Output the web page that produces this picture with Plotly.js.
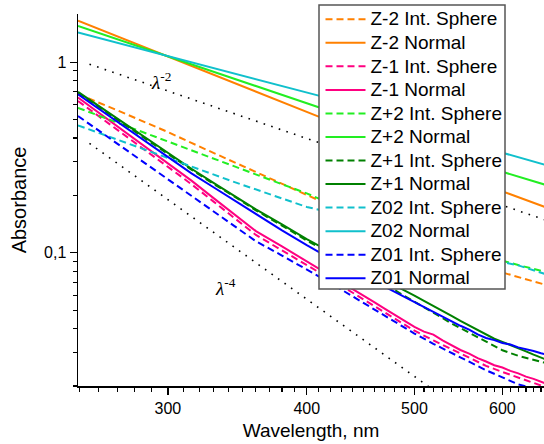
<!DOCTYPE html>
<html>
<head>
<meta charset="utf-8">
<script src="https://cdn.plot.ly/plotly-3.0.1.min.js"></script>
<style>
html,body{margin:0;padding:0;background:#fff;}
#chart{width:544px;height:444px;}
.legendtext{font-size:19px !important;}
</style>
</head>
<body>
<div id="chart"></div>
<script>
// Wavelength grid (nm) for measured spectra
const wl = [249, 260, 270, 280, 290, 300, 315, 330, 345, 360, 380, 400, 420, 440, 460, 480, 500, 520, 540, 560, 580, 600, 620, 640, 655];
// Denser grid for the noisier "Normal" spectra of Z-1, Z+1, Z01
const wlN = [249, 260, 270, 280, 290, 300, 315, 330, 345, 360, 380, 400, 420, 440, 450, 460, 470, 480, 490, 500, 510, 520, 530, 540, 550, 560, 570, 580, 590, 600, 610, 620, 630, 640, 650, 655];
// Wavelengths for the smooth "Normal" curves of Z-2, Z+2, Z02
const wlFit = [249, 410, 600, 655];

const z2Int  = [0.68, 0.616, 0.56, 0.511, 0.469, 0.43, 0.377, 0.334, 0.298, 0.265, 0.231, 0.201, 0.177, 0.159, 0.144, 0.131, 0.119, 0.109, 0.100, 0.0922, 0.0853, 0.0788, 0.0745, 0.0707, 0.0681];
const z2Norm = [1.65, 0.518, 0.21, 0.174];
const z1Int  = [0.626, 0.52, 0.443, 0.379, 0.326, 0.282, 0.229, 0.185, 0.151, 0.124, 0.103, 0.0865, 0.0728, 0.0617, 0.0525, 0.0451, 0.039, 0.0347, 0.0312, 0.0281, 0.0255, 0.0237, 0.0221, 0.0207, 0.0198];
const z1Norm = [0.652, 0.542, 0.461, 0.395, 0.34, 0.294, 0.239, 0.193, 0.158, 0.130, 0.108, 0.0904, 0.0762, 0.0645, 0.0596, 0.0551, 0.0509, 0.0473, 0.0439, 0.0409, 0.0386, 0.0372, 0.0347, 0.0328, 0.0309, 0.0296, 0.0280, 0.0269, 0.0257, 0.0250, 0.0240, 0.0233, 0.0224, 0.0218, 0.0211, 0.0207];
const zp2Int = [0.576, 0.524, 0.482, 0.444, 0.411, 0.381, 0.342, 0.31, 0.282, 0.257, 0.229, 0.205, 0.181, 0.165, 0.152, 0.14, 0.129, 0.12, 0.111, 0.104, 0.0969, 0.0908, 0.0862, 0.0822, 0.0795];
const zp2Norm = [1.55, 0.58, 0.266, 0.228];
const zp1Int = [0.69, 0.58, 0.50, 0.433, 0.377, 0.33, 0.273, 0.229, 0.196, 0.167, 0.139, 0.116, 0.099, 0.0858, 0.0736, 0.0635, 0.0554, 0.0483, 0.0426, 0.0381, 0.0341, 0.0308, 0.0288, 0.0274, 0.0265];
const zp1Norm = [0.698, 0.588, 0.507, 0.439, 0.382, 0.334, 0.276, 0.232, 0.198, 0.169, 0.141, 0.118, 0.101, 0.0879, 0.0822, 0.0769, 0.0719, 0.0676, 0.0633, 0.0596, 0.0559, 0.0527, 0.0495, 0.0467, 0.0439, 0.0415, 0.0391, 0.0371, 0.0354, 0.0341, 0.0329, 0.0315, 0.0304, 0.0292, 0.0282, 0.0277];
const z02Int = [0.466, 0.425, 0.392, 0.362, 0.336, 0.312, 0.283, 0.257, 0.234, 0.215, 0.192, 0.174, 0.163, 0.151, 0.14, 0.131, 0.123, 0.115, 0.108, 0.102, 0.0966, 0.0893, 0.0859, 0.0809, 0.0775];
const z02Norm = [1.43, 0.668, 0.335, 0.29];
const z01Int = [0.522, 0.437, 0.375, 0.323, 0.28, 0.243, 0.199, 0.165, 0.137, 0.115, 0.0967, 0.082, 0.0695, 0.059, 0.0505, 0.0435, 0.0377, 0.0333, 0.0298, 0.0268, 0.0242, 0.0222, 0.0204, 0.0195, 0.0182];
const z01Norm = [0.679, 0.569, 0.489, 0.421, 0.366, 0.319, 0.261, 0.22, 0.187, 0.159, 0.131, 0.1096, 0.0933, 0.081, 0.0757, 0.0709, 0.0662, 0.0623, 0.0584, 0.0551, 0.0517, 0.0491, 0.0461, 0.0439, 0.0414, 0.0395, 0.0373, 0.0357, 0.0348, 0.0336, 0.0330, 0.0319, 0.0313, 0.0305, 0.0297, 0.0294];

// Power-law guide lines
const lam2X = [255, 655], lam2Y = [0.976, 0.149];
const lam4X = [255, 530], lam4Y = [0.375, 0.0176];

// Tick labels
const xTickVals = [300, 400, 500, 600];
const xTickText = ['300', '400', '500', '600'];
const yTickVals = [0.1, 1];
const yTickText = ['0,1', '1'];

const FONT = 'Arial, "Liberation Sans", sans-serif';
const colors = {z2: '#FF8000', z1: '#FF0080', zp2: '#22EE22', zp1: '#008000', z02: '#10C0CC', z01: '#0000FF'};
const DASH = '7px,4px';
const LW = 2;

function tr(x, y, name, color, dashed) {
  return {x: x, y: y, type: 'scatter', mode: 'lines', name: name,
    line: {color: color, width: LW, dash: dashed ? DASH : 'solid'}, hoverinfo: 'skip'};
}

const traces = [
  {x: lam2X, y: lam2Y, type: 'scatter', mode: 'lines', showlegend: false, line: {color: '#000', width: 1.6, dash: '1.6px,6.4px'}},
  {x: lam4X, y: lam4Y, type: 'scatter', mode: 'lines', showlegend: false, line: {color: '#000', width: 1.6, dash: '1.6px,6.4px'}},
  tr(wl, z2Int, 'Z-2 Int. Sphere', colors.z2, true),
  tr(wlFit, z2Norm, 'Z-2 Normal', colors.z2, false),
  tr(wl, z1Int, 'Z-1 Int. Sphere', colors.z1, true),
  tr(wlN, z1Norm, 'Z-1 Normal', colors.z1, false),
  tr(wl, zp2Int, 'Z+2 Int. Sphere', colors.zp2, true),
  tr(wlFit, zp2Norm, 'Z+2 Normal', colors.zp2, false),
  tr(wl, zp1Int, 'Z+1 Int. Sphere', colors.zp1, true),
  tr(wlN, zp1Norm, 'Z+1 Normal', colors.zp1, false),
  tr(wl, z02Int, 'Z02 Int. Sphere', colors.z02, true),
  tr(wlFit, z02Norm, 'Z02 Normal', colors.z02, false),
  tr(wl, z01Int, 'Z01 Int. Sphere', colors.z01, true),
  tr(wlN, z01Norm, 'Z01 Normal', colors.z01, false)
];

const xMinor = [];
for (let v = 250; v <= 650; v += 10) { if (v % 100 !== 0) xMinor.push(v); }
const yMinor = [];
for (let d of [0.01, 0.1]) { for (let k = 2; k <= 9; k++) { const v = +(k * d).toFixed(3); if (v >= 0.02) yMinor.push(v); } }

// plot area in pixels: left 78, right 544, top 14, bottom 386
const PX = {l: 78, r: 544, t: 14, b: 386};
const px2paperX = p => (p - PX.l) / (PX.r - PX.l);
const px2paperY = p => (PX.b - p) / (PX.b - PX.t);

const layout = {
  width: 544, height: 444,
  margin: {l: 78, r: 0, t: 14, b: 58, pad: 0},
  paper_bgcolor: '#fff', plot_bgcolor: '#fff',
  font: {family: FONT, size: 16, color: '#000'},
  showlegend: true,
  xaxis: {
    type: 'log', range: [Math.log10(249), Math.log10(654)],
    showgrid: false, zeroline: false, showline: true, linecolor: '#000', linewidth: 1.5, mirror: false,
    ticks: 'outside', ticklen: 7, tickwidth: 1.2, tickcolor: '#000',
    tickmode: 'array', tickvals: xTickVals, ticktext: xTickText,
    tickfont: {family: FONT, size: 16, color: '#000'},
    minor: {tickmode: 'array', tickvals: xMinor, ticks: 'outside', ticklen: 4, tickwidth: 1.1, tickcolor: '#000', showgrid: false},
    title: {text: 'Wavelength, nm', font: {family: FONT, size: 19, color: '#000'}, standoff: 8}
  },
  yaxis: {
    type: 'log', range: [Math.log10(0.02), Math.log10(1.79)],
    showgrid: false, zeroline: false, showline: true, linecolor: '#000', linewidth: 1.5, mirror: false,
    ticks: 'outside', ticklen: 7, tickwidth: 1.2, tickcolor: '#000',
    tickmode: 'array', tickvals: yTickVals, ticktext: yTickText,
    tickfont: {family: FONT, size: 16, color: '#000'},
    minor: {tickmode: 'array', tickvals: yMinor, ticks: 'outside', ticklen: 4, tickwidth: 1.1, tickcolor: '#000', showgrid: false},
    title: {text: 'Absorbance', font: {family: FONT, size: 20, color: '#000'}, standoff: 12}
  },
  legend: {
    xref: 'paper', yref: 'paper',
    x: px2paperX(320.5), y: px2paperY(2.5), xanchor: 'left', yanchor: 'top',
    bgcolor: 'rgba(0,0,0,0)', borderwidth: 0,
    font: {family: FONT, size: 15.8, color: '#000'},
    itemwidth: 40, tracegroupgap: 0, maxheight: 420
  },
  shapes: [
    {type: 'rect', xref: 'paper', yref: 'paper', layer: 'above',
     x0: px2paperX(319), x1: px2paperX(505), y0: px2paperY(289), y1: px2paperY(5),
     fillcolor: '#fff', line: {color: '#555', width: 1.5}}
  ],
  annotations: [
    {xref: 'x', yref: 'y', x: Math.log10(296), y: Math.log10(0.80), text: '<i>λ</i><sup>-2</sup>', showarrow: false,
     font: {family: '"Liberation Serif", "Times New Roman", serif', size: 19, color: '#000'}},
    {xref: 'x', yref: 'y', x: Math.log10(338), y: Math.log10(0.066), text: '<i>λ</i><sup>-4</sup>', showarrow: false,
     font: {family: '"Liberation Serif", "Times New Roman", serif', size: 19, color: '#000'}}
  ]
};

Plotly.newPlot('chart', traces, layout, {staticPlot: true, displayModeBar: false});
</script>
</body>
</html>
